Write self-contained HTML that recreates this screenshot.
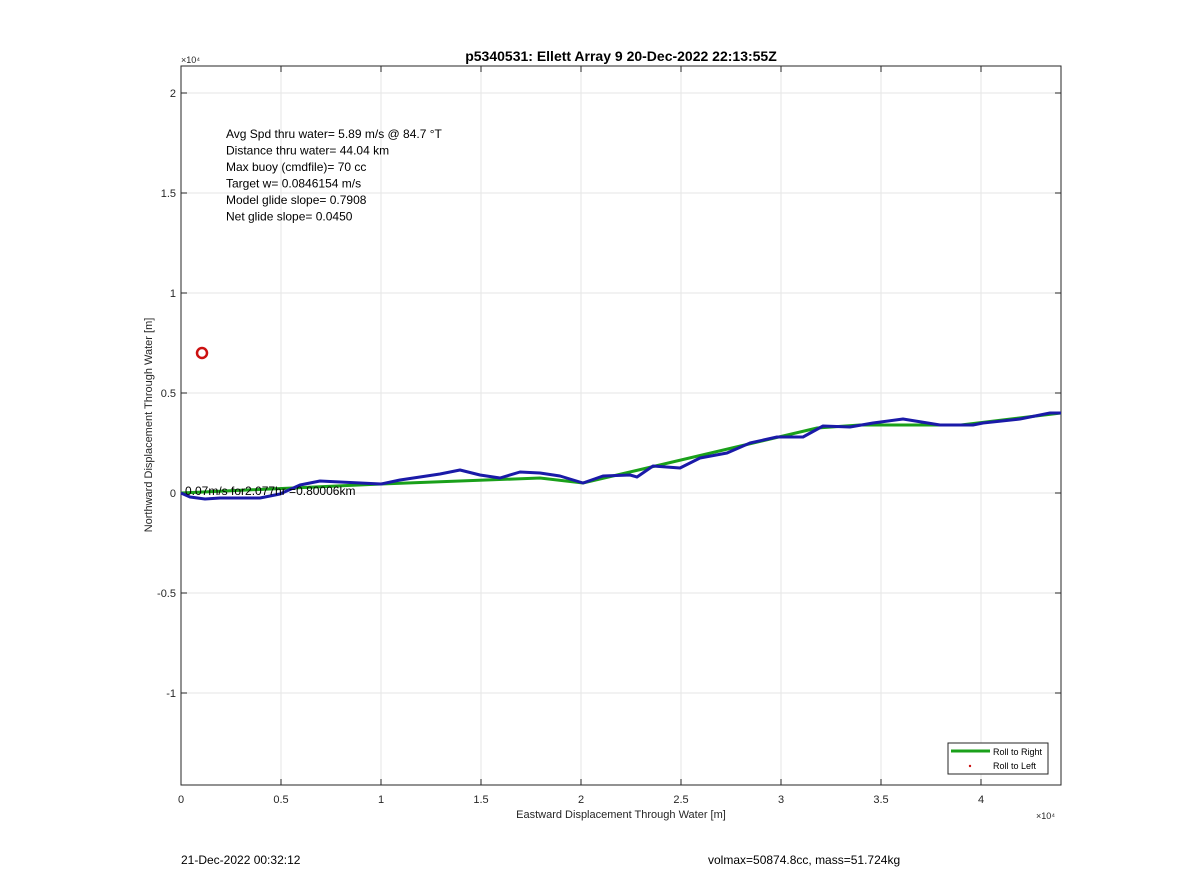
<!DOCTYPE html>
<html><head><meta charset="utf-8"><style>
body{margin:0;background:#fff;font-family:"Liberation Sans",sans-serif}
svg text{font-family:"Liberation Sans",sans-serif}
</style></head><body>
<svg width="1200" height="885" xmlns="http://www.w3.org/2000/svg">
<g id="plot"></g>
</svg>
<script>
const xTicks=[0,5000,10000,15000,20000,25000,30000,35000,40000];
const xTickLabels=["0","0.5","1","1.5","2","2.5","3","3.5","4"];
const yTicks=[-10000,-5000,0,5000,10000,15000,20000];
const yTickLabels=["-1","-0.5","0","0.5","1","1.5","2"];
const blueX=[0,450,1200,1950,3950,4950,5950,6950,7950,10000,10950,11950,12950,13950,14950,15950,16950,17950,18950,20100,21100,22450,22800,23600,24950,25950,27300,28450,29800,31100,32100,33450,34600,36100,37950,39600,40100,41950,43450,44000];
const blueY=[0,-200,-300,-250,-250,-50,400,600,550,450,650,800,950,1150,900,750,1050,1000,850,500,850,900,800,1350,1250,1750,2000,2500,2800,2800,3350,3300,3500,3700,3400,3400,3500,3700,4000,4000];
const greenX=[0,10000,17950,20100,31800,33950,39000,44000];
const greenY=[0,450,750,500,3250,3400,3400,4000];
const circleX=[1050];const circleY=[7000];
const L=181,R=1061,T=66,B=785,xmin=0,xmax=44000,ymin=-14600,ymax=21350;
const sx=v=>L+(v-xmin)/(xmax-xmin)*(R-L);
const sy=v=>B-(v-ymin)/(ymax-ymin)*(B-T);
const g=document.getElementById('plot');const NS="http://www.w3.org/2000/svg";
function mk(t,a,txt){const e=document.createElementNS(NS,t);for(const k in a)e.setAttribute(k,a[k]);if(txt!==undefined)e.textContent=txt;g.appendChild(e);return e;}
let e;
e=mk('rect',{x:L,y:T,width:R-L,height:B-T,fill:'#fff',stroke:'none'});

xTicks.forEach((v,i)=>{
 e=mk('line',{x1:sx(v),x2:sx(v),y1:T,y2:B,stroke:'#e6e6e6'});
 
 mk('line',{x1:sx(v),x2:sx(v),y1:B,y2:B-6,stroke:'#262626'});
 mk('line',{x1:sx(v),x2:sx(v),y1:T,y2:T+6,stroke:'#262626'});
 e=mk('text',{x:sx(v),y:B+18,'font-size':11,'text-anchor':'middle',fill:'#262626'},xTickLabels[i]);
 
});
yTicks.forEach((v,i)=>{
 e=mk('line',{x1:L,x2:R,y1:sy(v),y2:sy(v),stroke:'#e6e6e6'});
 
 mk('line',{x1:L,x2:L+6,y1:sy(v),y2:sy(v),stroke:'#262626'});
 mk('line',{x1:R,x2:R-6,y1:sy(v),y2:sy(v),stroke:'#262626'});
 e=mk('text',{x:L-5,y:sy(v)+4,'font-size':11,'text-anchor':'end',fill:'#262626'},yTickLabels[i]);
 
});
e=mk('rect',{x:L,y:T,width:R-L,height:B-T,fill:'none',stroke:'#262626'});

e=mk('polyline',{points:greenX.map((x,i)=>sx(x)+','+sy(greenY[i])).join(' '),fill:'none',stroke:'#1aa01a','stroke-width':3});

e=mk('polyline',{points:blueX.map((x,i)=>sx(x)+','+sy(blueY[i])).join(' '),fill:'none',stroke:'#1a1aa8','stroke-width':3,'stroke-linejoin':'round'});

circleX.forEach((x,i)=>{e=mk('circle',{cx:sx(x),cy:sy(circleY[i]),r:5,fill:'none',stroke:'#cc1111','stroke-width':2.5});
 });
e=mk('text',{x:sx(0)+4,y:sy(0)+2,'font-size':12,fill:'#000'},'0.07m/s for2.077hr =0.80006km');

const info=["Avg Spd thru water=  5.89 m/s @  84.7 °T","Distance thru water= 44.04 km","Max buoy (cmdfile)= 70 cc","Target w= 0.0846154 m/s","Model glide slope= 0.7908","Net glide slope= 0.0450"];
info.forEach((t,i)=>{e=mk('text',{x:226,y:138+i*16.5,'font-size':12,fill:'#000'},t);
 });
e=mk('text',{x:621,y:61,'font-size':14,'font-weight':'bold','text-anchor':'middle',fill:'#000'},'p5340531: Ellett Array 9 20-Dec-2022 22:13:55Z');

e=mk('text',{x:621,y:818,'font-size':11,'text-anchor':'middle',fill:'#262626'},'Eastward Displacement Through Water [m]');

e=mk('text',{x:0,y:0,'font-size':11,'text-anchor':'middle',fill:'#262626',transform:'translate(152,425) rotate(-90)'},'Northward Displacement Through Water [m]');

e=mk('text',{x:181,y:63,'font-size':9,fill:'#262626'},'×10⁴');

e=mk('text',{x:1036,y:819,'font-size':9,fill:'#262626'},'×10⁴');

e=mk('rect',{x:948,y:743,width:100,height:31,fill:'#fff',stroke:'#262626'});

mk('line',{x1:951,x2:990,y1:751,y2:751,stroke:'#1aa01a','stroke-width':3});
e=mk('text',{x:993,y:755,'font-size':9,fill:'#000'},'Roll to Right');

mk('circle',{cx:970,cy:766,r:1.2,fill:'#cc1111'});
e=mk('text',{x:993,y:769,'font-size':9,fill:'#000'},'Roll to Left');

e=mk('text',{x:181,y:864,'font-size':12,fill:'#000'},'21-Dec-2022 00:32:12');

e=mk('text',{x:708,y:864,'font-size':12,fill:'#000'},'volmax=50874.8cc, mass=51.724kg');

</script>
</body></html>
